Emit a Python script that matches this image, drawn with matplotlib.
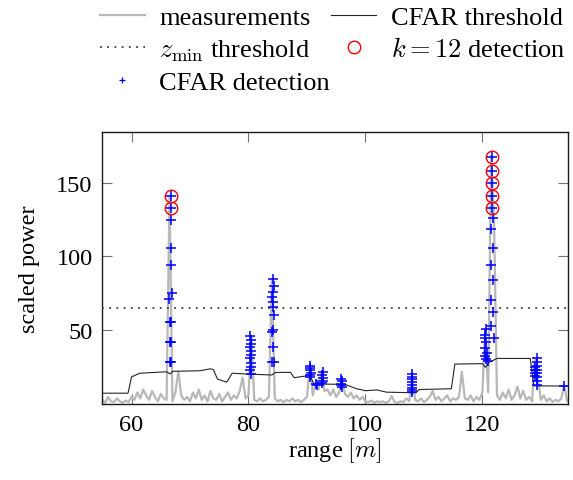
import numpy as np
import matplotlib
matplotlib.use("Agg")
import matplotlib.pyplot as plt
from matplotlib.lines import Line2D

plt.rcParams['font.family'] = ['Liberation Serif', 'DejaVu Serif']
plt.rcParams['mathtext.fontset'] = 'cm'

# ---- data ----
range_step = 0.5
range_start = 55.0
measurements = [
    3, 1, 5, 2, 1.5, 4, 2, 1, 2.5, 1.5,          # 55.0 - 59.5
    5, 3, 8, 4, 10, 6, 3, 9, 5, 2,               # 60.0 - 64.5
    7, 4, 3, 141, 2, 8, 22, 6, 3, 5,             # 65.0 - 69.5
    2, 8, 4, 10, 3, 6, 2, 9, 4, 3,               # 70.0 - 74.5
    7, 2, 5, 8, 3, 6, 4, 9, 18, 4,               # 75.0 - 79.5
    6, 46, 3, 2, 4, 2, 3, 5, 85, 4,              # 80.0 - 84.5
    2, 3, 1.5, 3, 2, 4, 2, 3, 1.5, 3,            # 85.0 - 89.5
    5, 26, 6, 15, 10, 22, 9, 10, 6, 10,          # 90.0 - 94.5
    5, 8, 17, 7, 5, 8, 4, 6, 3, 5,               # 95.0 - 99.5
    2, 1.5, 2.5, 1, 2, 1.5, 2, 1, 2, 5.5,        # 100.0 - 104.5
    1.5, 1, 2, 1.5, 4, 2, 20, 3, 2, 4,           # 105.0 - 109.5
    1.5, 3, 5, 9, 3, 5, 2, 4, 6, 2,              # 110.0 - 114.5
    4, 3, 5, 22, 4, 3, 6, 2, 5, 3,               # 115.0 - 119.5
    8, 51, 8, 168, 125, 6, 3, 8, 4, 10,          # 120.0 - 124.5
    3, 6, 12, 4, 9, 3, 5, 2, 31, 18,             # 125.0 - 129.5
    3, 6, 2, 4, 1.5, 3, 2, 4, 13, 2,             # 130.0 - 134.5
    3,                                           # 135.0
]
range_m = range_start + range_step * np.arange(len(measurements))

cfar_thr_x = [55, 59.4, 60.0, 61.4, 66.0, 66.6, 67.0, 71.7, 73.5, 74.0, 74.7, 76.3,
              77.2, 79.6, 84.0, 84.6, 87.2, 87.8, 90.5, 91.2, 96.5, 98.5, 100.0,
              102.0, 103.6, 108.6, 109.2, 114.7, 115.3, 120.0, 120.5, 121.2, 122.5,
              128.2, 128.8, 135]
cfar_thr_y = [7.5, 7.5, 18.5, 21, 22, 20.5, 22.3, 22.7, 24, 23.5, 17, 15,
              21, 20.5, 19.8, 21.5, 21.6, 18, 19.5, 13.7, 13.5, 10.5, 9.2,
              9.7, 8.2, 7.8, 10, 10.5, 27.2, 27.5, 25, 28.5, 31,
              31, 12.5, 12.3]

z_min = 65

cfar_det_x = [66.7, 66.7, 66.7, 66.7, 66.7, 66.9, 66.4, 66.5, 66.8, 66.5, 66.8, 66.5, 66.8,
              80.3, 80.5, 80.4, 80.3, 80.5, 80.4, 80.3, 80.5, 80.4, 80.3, 80.5,
              84.2, 84.3, 84.2, 84.1, 84.2, 84.2, 84.3, 84.0, 84.2, 84.2, 84.1, 84.3,
              90.6, 90.5, 90.6, 90.7, 90.6, 90.5,
              91.5, 91.8,
              92.7, 92.6, 92.8, 92.7, 92.6,
              95.8, 96.0, 95.9, 95.8, 96.0,
              108.0, 108.0, 108.0, 108.0, 108.0, 108.0, 108.0, 108.0,
              120.4, 120.6, 120.5, 120.7, 120.5, 120.8, 120.4, 120.6, 120.9,
              121.7, 121.6, 121.6, 121.7, 121.6, 121.8, 121.4, 121.9, 121.4, 121.9,
              121.4, 121.9, 121.5, 122.0,
              129.0, 129.0, 129.0, 129.0,
              129.3, 129.3, 129.3, 129.3, 129.3, 129.3, 129.3, 129.3,
              134.0]
cfar_det_y = [141, 132.6, 125, 105.6, 94.3, 75, 71.5, 56, 56, 42, 42, 28.4, 28.4,
              46, 43.5, 41, 38.5, 36, 33.5, 31, 28, 25.5, 23, 20.5,
              84.7, 79.7, 75.7, 72.3, 69.3, 65.5, 60.3, 49, 50, 38.5, 28.4, 28.4,
              26, 24.5, 23, 21.5, 20, 18.5,
              14, 13,
              22, 20, 18, 16, 14.5,
              17, 15.5, 14, 13, 12,
              20.5, 18.5, 17, 15, 13, 11, 9.5, 8,
              47, 51, 45, 42, 38, 35, 33, 30.6, 29,
              167.3, 158.1, 149.5, 140.9, 132.8, 125.7, 118.4, 105.8, 94.1, 84.2,
              70.5, 62.6, 53.1, 44.6,
              25, 23, 21, 19,
              31, 28.5, 26, 23.5, 21, 18.5, 16, 13,
              12.6]

k12_det_x = [66.7, 66.7, 121.7, 121.7, 121.6, 121.7, 121.6]
k12_det_y = [141, 132.6, 167.3, 158.1, 149.5, 140.9, 132.8]

x_ticks = [60, 80, 100, 120]
y_ticks = [50, 100, 150]

# ---- figure ----
W, H = 573, 481
fig = plt.figure(figsize=(W / 100, H / 100), dpi=100)
ax = fig.add_axes([0.1785, 0.1574, 0.8133, 0.5655])

FS = 17.5
FS_LAB = 17.5
FS_LEG = 19

l_meas, = ax.plot(range_m, measurements, color='0.72', lw=1.6, zorder=2)
l_thr, = ax.plot(cfar_thr_x, cfar_thr_y, color='0.15', lw=0.8, zorder=3)
l_zmin = ax.axhline(z_min, color='0.25', lw=1.3, linestyle=(0, (1, 3)), zorder=3)
l_cfar, = ax.plot(cfar_det_x, cfar_det_y, linestyle='none', marker='+',
                  color='blue', markersize=7.5, mew=1.1, zorder=4)
l_k12, = ax.plot(k12_det_x, k12_det_y, linestyle='none', marker='o',
                 markerfacecolor='none', markeredgecolor='red',
                 markersize=9, mew=1.0, zorder=5)

ax.set_xlim(55, 134.7)
ax.set_ylim(0, 184)
ax.set_xticks(x_ticks)
ax.set_yticks(y_ticks)
ax.set_xticklabels([str(t) for t in x_ticks], fontsize=FS)
ax.set_yticklabels([str(t) for t in y_ticks], fontsize=FS)
ax.tick_params(direction='in', top=True, right=True, length=7, width=0.8,
               color='0.45', pad=7)
for s in ax.spines.values():
    s.set_linewidth(1.0)
    s.set_color('0.1')

ax.set_xlabel(r'range $[m]$', fontsize=FS_LAB, labelpad=0)
ax.set_ylabel('scaled power', fontsize=FS_LAB, labelpad=12)

h_plus = Line2D([], [], linestyle='none', marker='+', color='blue',
                markersize=5, mew=0.9)
handles = [l_meas, l_zmin, h_plus, l_thr, l_k12]
labels = ['measurements', r'$z_{\min}$ threshold', 'CFAR detection',
          'CFAR threshold', r'$k=12$ detection']
fig.legend(handles, labels, ncol=2, loc='upper left',
           bbox_to_anchor=(100 / W, 1 - 7 / H), frameon=False, fontsize=FS_LEG,
           borderpad=0, borderaxespad=0,
           handlelength=1.7, handletextpad=0.55, columnspacing=0.05,
           labelspacing=0.3)

fig.savefig('out.png', dpi=100)
